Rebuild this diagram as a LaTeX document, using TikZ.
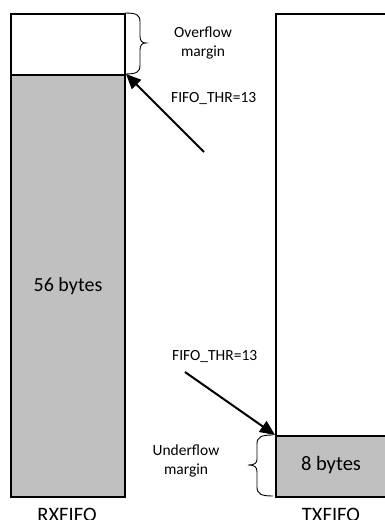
\documentclass[tikz,border=0pt]{standalone}
\usepackage{fontspec}
\setmainfont{Carlito}
\usetikzlibrary{arrows.meta}
\definecolor{fill}{HTML}{C0C0C0}
\tikzset{
  box/.style={draw=black, line width=2pt, anchor=north west, inner sep=0pt, font=\fontsize{20}{24}\selectfont},
  small/.style={font=\fontsize{15.5}{19}\selectfont, align=center, inner sep=0pt},
  big/.style={font=\fontsize{20.5}{24}\selectfont, inner sep=0pt},
  ptr/.style={line width=2pt, -{Triangle[length=15pt,width=13pt]}},
  brc/.style={line width=0.9pt}
}
\begin{document}
\begin{tikzpicture}[x=1pt,y=-1pt]
\clip (0,0) rectangle (385,520);
% RXFIFO
\node[box, fill=white, minimum width=114pt, minimum height=61pt] (rxtop) at (10,13) {};
\node[box, fill=fill, minimum width=114pt, minimum height=422pt] (rxbot) at (10,74) {56 bytes};
\node[big] (rxlab) at (67,515) {RXFIFO};
% TXFIFO
\node[box, fill=white, minimum width=120pt, minimum height=422pt] (txtop) at (275,13) {};
\node[box, fill=fill, minimum width=120pt, minimum height=61pt] (txbot) at (275,435) {};
\node[big] (txval) at (331,465) {8 bytes};
\node[big] (txlab) at (331,515) {TXFIFO};
% overflow brace
\draw[brc] (125,13) .. controls (137,13) and (140,15) .. (140,22) -- (140,36)
  .. controls (140,41) and (142,43) .. (146,43)
  .. controls (142,43) and (140,45) .. (140,50) -- (140,65)
  .. controls (140,72) and (137,74) .. (125,74);
\node[small] (ovf) at (203,43) {Overflow\\margin};
\node[small, anchor=west] (thr1) at (171,99) {FIFO\_THR=13};
\coordinate (a1) at (204,152);
\draw[ptr] (a1) -- (rxbot.north east);
% underflow brace
\draw[brc] (273,435) .. controls (261,435) and (257,437) .. (257,444) -- (257,459)
  .. controls (257,463) and (255,465) .. (248,465)
  .. controls (255,465) and (257,467) .. (257,472) -- (257,487)
  .. controls (257,494) and (261,496) .. (273,496);
\node[small] (unf) at (186,461) {Underflow\\margin};
\node[small, anchor=west] (thr2) at (172,357) {FIFO\_THR=13};
\coordinate (a2) at (185,372);
\draw[ptr] (a2) -- (txbot.north west);
\end{tikzpicture}
\end{document}
